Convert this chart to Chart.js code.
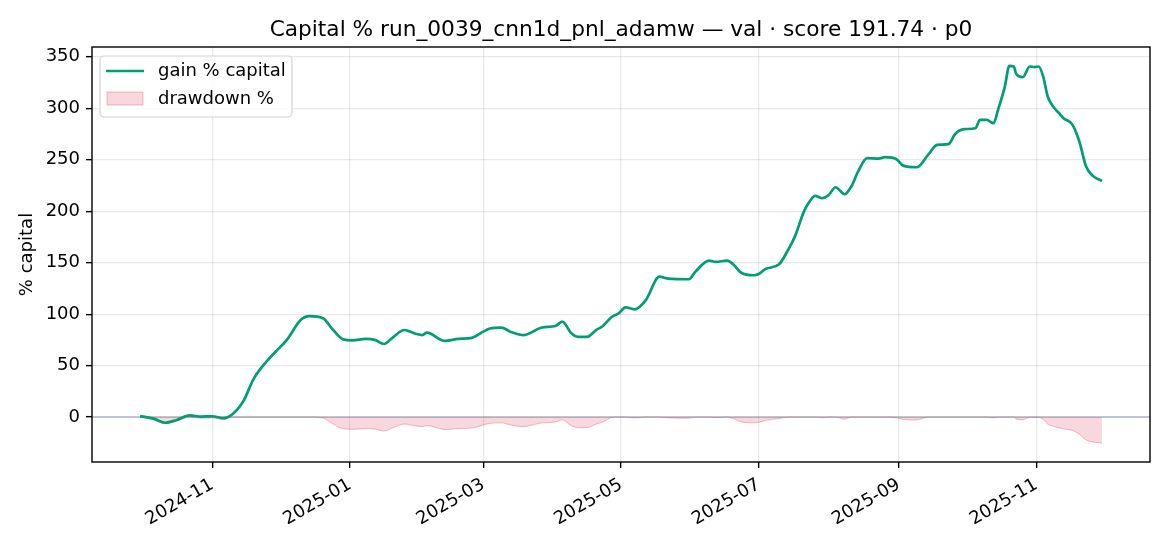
<!DOCTYPE html>
<html>
<head>
<meta charset="utf-8">
<script src="https://cdn.jsdelivr.net/npm/chart.js@4.4.1/dist/chart.umd.min.js"></script>
<style>
  html, body { margin: 0; padding: 0; background: #fff; }
</style>
</head>
<body>
<canvas id="capitalChart" width="1170" height="546"></canvas>
<script>
const dates = [
    '2024-09-30', '2024-10-06', '2024-10-11', '2024-10-16', '2024-10-22', '2024-10-27', '2024-11-01', '2024-11-06',
    '2024-11-10', '2024-11-15', '2024-11-19', '2024-11-25', '2024-11-29', '2024-12-04', '2024-12-10', '2024-12-14',
    '2024-12-20', '2024-12-24', '2024-12-29', '2025-01-02', '2025-01-08', '2025-01-12', '2025-01-16', '2025-01-20',
    '2025-01-25', '2025-01-30', '2025-02-02', '2025-02-04', '2025-02-12', '2025-02-18', '2025-02-24', '2025-03-01',
    '2025-03-04', '2025-03-09', '2025-03-13', '2025-03-19', '2025-03-27', '2025-04-02', '2025-04-05', '2025-04-09',
    '2025-04-12', '2025-04-16', '2025-04-20', '2025-04-23', '2025-04-27', '2025-04-30', '2025-05-03', '2025-05-07',
    '2025-05-12', '2025-05-18', '2025-05-22', '2025-05-31', '2025-06-03', '2025-06-09', '2025-06-12', '2025-06-17',
    '2025-06-20', '2025-06-23', '2025-06-29', '2025-07-01', '2025-07-04', '2025-07-10', '2025-07-14', '2025-07-17',
    '2025-07-21', '2025-07-23', '2025-07-26', '2025-07-29', '2025-08-01', '2025-08-04', '2025-08-08', '2025-08-11',
    '2025-08-14', '2025-08-18', '2025-08-23', '2025-08-26', '2025-08-31', '2025-09-03', '2025-09-09', '2025-09-14',
    '2025-09-18', '2025-09-23', '2025-09-26', '2025-09-30', '2025-10-05', '2025-10-07', '2025-10-10', '2025-10-13',
    '2025-10-15', '2025-10-18', '2025-10-20', '2025-10-22', '2025-10-23', '2025-10-26', '2025-10-29', '2025-10-31',
    '2025-11-02', '2025-11-04', '2025-11-06', '2025-11-09', '2025-11-11', '2025-11-13', '2025-11-17', '2025-11-20',
    '2025-11-23', '2025-11-26', '2025-11-30'
];

const gainPct = [
    1.0, -1.5, -5.5, -3.0, 1.6, 0.5, 0.8, -1.0,
    3.0, 16.5, 36.0, 54.0, 63.5, 75.0, 94.0, 98.0,
    96.0, 86.0, 75.5, 74.5, 76.0, 75.0, 71.0, 77.5,
    84.6, 81.0, 79.7, 82.0, 74.0, 76.0, 77.0, 83.0,
    86.0, 87.0, 83.0, 79.7, 87.0, 88.5, 92.7, 81.4,
    78.0, 78.0, 84.6, 88.5, 97.5, 100.8, 106.6, 104.7,
    113.7, 136.4, 134.5, 133.9, 141.3, 152.0, 150.7, 152.0,
    147.8, 140.7, 137.8, 139.0, 143.9, 148.4, 162.4, 175.3,
    199.6, 207.7, 214.9, 212.6, 215.8, 223.3, 216.5, 224.0,
    238.5, 251.5, 251.1, 252.5, 250.5, 244.3, 242.7, 254.7,
    264.4, 265.1, 275.0, 279.7, 280.6, 288.7, 288.7, 285.5,
    298.5, 321.0, 341.2, 340.6, 333.5, 330.2, 340.6, 340.0,
    340.6, 330.8, 311.4, 300.0, 295.3, 290.4, 283.9, 267.7,
    243.4, 234.3, 229.4
];

const drawdownPct = [
    0, -2.5, -6.4, -4.0, 0, -1.1, -0.8, -2.6,
    0, 0, 0, 0, 0, 0, 0, 0,
    -1.0, -6.1, -11.4, -11.9, -11.1, -11.6, -13.6, -10.4,
    -6.8, -8.6, -9.2, -8.1, -12.1, -11.1, -10.6, -7.6,
    -6.1, -5.6, -7.6, -9.2, -5.6, -4.8, -2.7, -8.4,
    -10.1, -10.1, -6.8, -4.8, -0.3, 0, 0, -0.9,
    0, 0, -0.8, -1.1, 0, 0, -0.5, 0,
    -1.7, -4.5, -5.6, -5.2, -3.2, -1.4, 0, 0,
    0, 0, 0, -0.7, 0, 0, -2.1, 0,
    0, 0, -0.1, 0, -0.6, -2.3, -2.8, 0,
    0, 0, 0, 0, 0, 0, 0, -0.8,
    0, 0, 0, -0.1, -1.8, -2.5, -0.1, -0.3,
    -0.1, -2.4, -6.8, -9.3, -10.4, -11.5, -13.0, -16.7,
    -22.2, -24.2, -25.3
];

const monthTicks = ['2024-11-01', '2025-01-01', '2025-03-01', '2025-05-01', '2025-07-01', '2025-09-01', '2025-11-01'];
const yTicks = [0, 50, 100, 150, 200, 250, 300, 350];

const titleText = 'Capital % run_0039_cnn1d_pnl_adamw — val · score 191.74 · p0';
const FONT = 'DejaVu Sans';
const GREEN = '#009E73';
const PINK_FILL = 'rgba(220, 20, 60, 0.17)';
const PINK_EDGE = 'rgba(220, 20, 60, 0.28)';

const toMs = (s) => Date.parse(s + 'T00:00:00Z');

const xFirst = toMs(dates[0]);
const xLast = toMs(dates[dates.length - 1]);
const xPad = (xLast - xFirst) * 0.05;
const yLow = Math.min(...drawdownPct, ...gainPct);
const yHigh = Math.max(...drawdownPct, ...gainPct);
const yPad = (yHigh - yLow) * 0.05;

const fmtMonth = (ms) => {
    const d = new Date(ms);
    return `${d.getUTCFullYear()}-${String(d.getUTCMonth() + 1).padStart(2, '0')}`;
};

const chartDecor = {
    id: 'chartDecor',
    afterDatasetDraw: (chart, args) => {
        if (args.index !== 1) return;
        const { ctx, chartArea } = chart;
        const y0 = chart.scales.y.getPixelForValue(0);
        ctx.save();
        ctx.strokeStyle = 'rgba(110, 120, 140, 0.6)';
        ctx.lineWidth = 1.3;
        ctx.beginPath();
        ctx.moveTo(chartArea.left, y0);
        ctx.lineTo(chartArea.right, y0);
        ctx.stroke();
        ctx.restore();
    },
    afterDraw: (chart) => {
        const { ctx, chartArea } = chart;
        ctx.save();

        // frame
        ctx.strokeStyle = '#000';
        ctx.lineWidth = 1.4;
        ctx.strokeRect(chartArea.left, chartArea.top, chartArea.right - chartArea.left, chartArea.bottom - chartArea.top);

        // title
        ctx.fillStyle = '#000';
        ctx.font = `21.7px "${FONT}"`;
        ctx.textAlign = 'center';
        ctx.textBaseline = 'alphabetic';
        ctx.fillText(titleText, (chartArea.left + chartArea.right) / 2, chartArea.top - 11);

        // legend
        const bx = chartArea.left + 8;
        const by = chartArea.top + 9;
        const bw = 192;
        const bh = 61;
        ctx.beginPath();
        ctx.roundRect(bx, by, bw, bh, 4);
        ctx.fillStyle = 'rgba(255, 255, 255, 0.8)';
        ctx.fill();
        ctx.strokeStyle = '#d3d3d3';
        ctx.lineWidth = 1.2;
        ctx.stroke();

        ctx.strokeStyle = GREEN;
        ctx.lineWidth = 2.7;
        ctx.beginPath();
        ctx.moveTo(bx + 6, by + 15);
        ctx.lineTo(bx + 44, by + 15);
        ctx.stroke();

        ctx.fillStyle = PINK_FILL;
        ctx.fillRect(bx + 7, by + 36, 36, 13);
        ctx.strokeStyle = PINK_EDGE;
        ctx.lineWidth = 1;
        ctx.strokeRect(bx + 7, by + 36, 36, 13);

        ctx.fillStyle = '#000';
        ctx.font = `18px "${FONT}"`;
        ctx.textAlign = 'left';
        ctx.textBaseline = 'middle';
        ctx.fillText('gain % capital', bx + 58, by + 15);
        ctx.fillText('drawdown %', bx + 58, by + 43);

        ctx.restore();
    }
};

const ctx = document.getElementById('capitalChart').getContext('2d');

new Chart(ctx, {
    type: 'line',
    data: {
        datasets: [
            {
                label: 'gain % capital',
                data: dates.map((d, i) => ({ x: toMs(d), y: gainPct[i] })),
                borderColor: GREEN,
                borderWidth: 2.7,
                pointRadius: 0,
                fill: false,
                cubicInterpolationMode: 'monotone'
            },
            {
                label: 'drawdown %',
                data: dates.map((d, i) => ({ x: toMs(d), y: drawdownPct[i] })),
                borderColor: PINK_EDGE,
                backgroundColor: PINK_FILL,
                borderWidth: 1,
                pointRadius: 0,
                fill: 'origin',
                cubicInterpolationMode: 'monotone'
            }
        ]
    },
    options: {
        responsive: false,
        animation: false,
        layout: {
            padding: { left: 0, right: 20, top: 47, bottom: 0 }
        },
        plugins: {
            legend: { display: false },
            title: { display: false },
            tooltip: { enabled: false }
        },
        scales: {
            x: {
                type: 'linear',
                min: xFirst - xPad,
                max: xLast + xPad,
                afterBuildTicks: (scale) => {
                    scale.ticks = monthTicks.map(s => ({ value: toMs(s) }));
                },
                afterFit: (scale) => {
                    scale.height = 84;
                },
                ticks: {
                    autoSkip: false,
                    minRotation: 30,
                    maxRotation: 30,
                    padding: 6,
                    color: '#000',
                    font: { family: FONT, size: 18 },
                    callback: (value) => fmtMonth(value)
                },
                grid: {
                    color: 'rgba(0, 0, 0, 0.09)',
                    lineWidth: 1.3,
                    tickColor: '#000',
                    tickLength: 6,
                    tickWidth: 1.4
                },
                border: { display: false }
            },
            y: {
                type: 'linear',
                min: yLow - yPad,
                max: yHigh + yPad,
                afterBuildTicks: (scale) => {
                    scale.ticks = yTicks.map(v => ({ value: v }));
                },
                afterFit: (scale) => {
                    scale.width = 92;
                },
                ticks: {
                    padding: 6,
                    color: '#000',
                    font: { family: FONT, size: 18 }
                },
                title: {
                    display: true,
                    text: '% capital',
                    color: '#000',
                    font: { family: FONT, size: 18 },
                    padding: { top: 17, bottom: 0 }
                },
                grid: {
                    color: 'rgba(0, 0, 0, 0.09)',
                    lineWidth: 1.3,
                    tickColor: '#000',
                    tickLength: 6,
                    tickWidth: 1.4
                },
                border: { display: false }
            }
        }
    },
    plugins: [chartDecor]
});
</script>
</body>
</html>
